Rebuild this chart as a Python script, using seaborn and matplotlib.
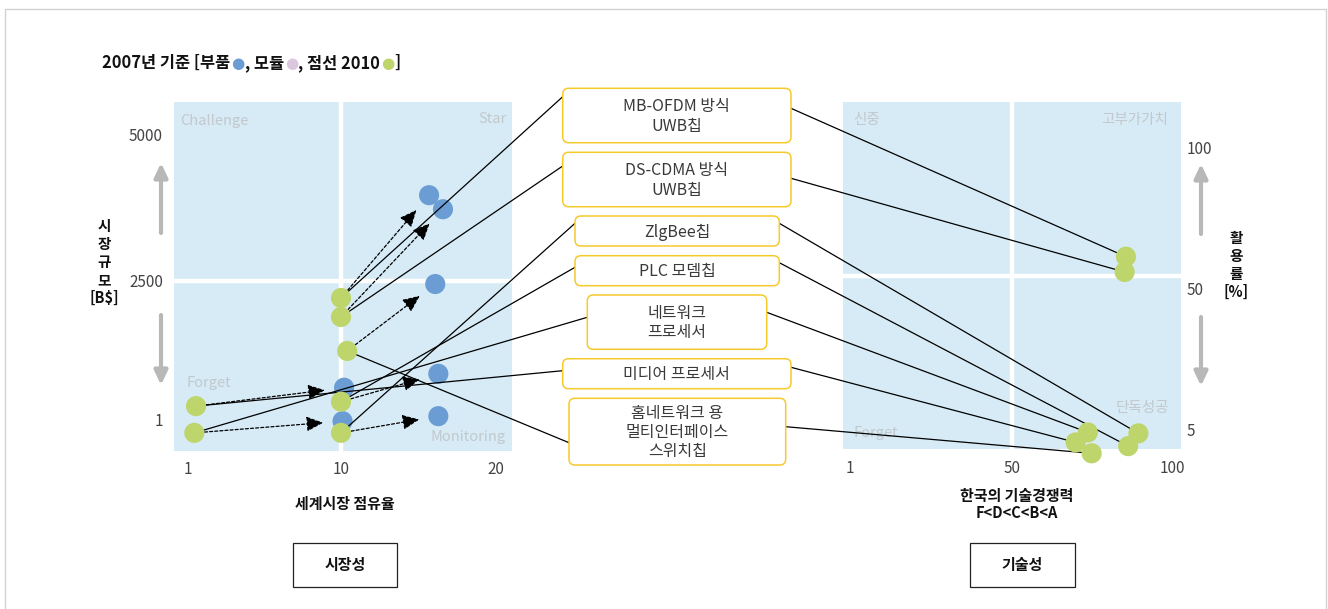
import numpy as np
import pandas as pd
import matplotlib
matplotlib.use("Agg")
import matplotlib.pyplot as plt
import matplotlib.patches as mpatches
import matplotlib.transforms as mtransforms
import seaborn as sns

# ---------------- data ----------------
items = ["MB-OFDM 방식\nUWB칩", "DS-CDMA 방식\nUWB칩", "ZlgBee칩", "PLC 모뎀칩",
         "네트워크\n프로세서", "미디어 프로세서", "홈네트워크 용\n멀티인터페이스\n스위치칩"]
share_2010 = [10.0, 10.0, 10.0, 10.0, 1.4, 1.5, 10.4]        # 세계시장 점유율 (green)
size_2010 = [2190, 1850, -230, 330, -230, 250, 1240]         # 시장규모 (green)
share_2007 = [15.7, 16.6, 16.3, 16.3, 10.1, 10.2, 16.1]      # blue (부품)
size_2007 = [3960, 3720, 70, 830, -20, 580, 2440]
tech_comp = [85.6, 85.2, 89.5, 86.3, 73.7, 69.9, 74.9]       # 한국의 기술경쟁력
util_rate = [61.4, 56.0, 3.7, -0.4, 4.0, 0.8, -2.7]          # 활용률

left_xticks = [1, 10, 20]
left_yticks = [1, 2500, 5000]
right_xticks = [1, 50, 100]
right_yticks = [5, 50, 100]
left_quadrants = ["Challenge", "Star", "Forget", "Monitoring"]
right_quadrants = ["신중", "고부가가치", "Forget", "단독성공"]
title_parts = ["2007년 기준 [부품", "●", ", 모듈", "●", ", 점선 2010", "●", "]"]

# ---------------- style ----------------
W, H = 1328, 609
BLUE = "#6b9dd4"
GREEN = "#bdd56b"
PINK = "#dcc6df"
BG = "#d6ebf6"
QCOL = "#c3c8cc"
YEL = "#f6ca2c"
TICKC = "#444444"

sns.set_style("white")
plt.rcParams["font.family"] = ["Noto Sans CJK KR", "DejaVu Sans"]
plt.rcParams["axes.unicode_minus"] = False

fig = plt.figure(figsize=(W / 100, H / 100), dpi=100)
ID = mtransforms.IdentityTransform()


def fx(px):
    return px / W


def fy(py):
    return 1 - py / H


def ax_rect(x0, y0, x1, y1):
    return [fx(x0), fy(y1), (x1 - x0) / W, (y1 - y0) / H]


def piecewise(xs, ts):
    xs = np.asarray(xs, float)
    ts = np.asarray(ts, float)

    def fwd(v):
        v = np.asarray(v, float)
        lo = ts[0] + (v - xs[0]) * (ts[1] - ts[0]) / (xs[1] - xs[0])
        hi = ts[1] + (v - xs[1]) * (ts[2] - ts[1]) / (xs[2] - xs[1])
        return np.where(v < xs[1], lo, hi)

    def inv(t):
        t = np.asarray(t, float)
        lo = xs[0] + (t - ts[0]) * (xs[1] - xs[0]) / (ts[1] - ts[0])
        hi = xs[1] + (t - ts[1]) * (xs[2] - xs[1]) / (ts[2] - ts[1])
        return np.where(t < ts[1], lo, hi)

    return fwd, inv


# outer frame
fig.patches.append(mpatches.Rectangle((5, H - 620), 1321, 611, transform=ID,
                                      fill=False, edgecolor="#d2d2d2", lw=1.0))

# ---------------- left panel ----------------
ax1 = fig.add_axes(ax_rect(174, 102, 512, 451))
lxf, lxi = piecewise(left_xticks, [0, 153.5, 308])
lyf, lyi = piecewise(left_yticks, [0, 139.3, 285.7])
ax1.set_xscale("function", functions=(lxf, lxi))
ax1.set_yscale("function", functions=(lyf, lyi))
ax1.set_xlim(float(lxi(-13.5)), float(lxi(324.5)))
ax1.set_ylim(float(lyi(-31)), float(lyi(318)))
ax1.set_facecolor(BG)
ax1.axvline(10, color="white", lw=3.2, zorder=1)
ax1.axhline(2500, color="white", lw=3.2, zorder=1)

df07 = pd.DataFrame({"share": share_2007, "size": size_2007})
df10 = pd.DataFrame({"share": share_2010, "size": size_2010})
sns.scatterplot(data=df07, x="share", y="size", ax=ax1, s=210, color=BLUE,
                edgecolor="none", linewidth=0, zorder=2, clip_on=False, legend=False)
sns.scatterplot(data=df10, x="share", y="size", ax=ax1, s=210, color=GREEN,
                edgecolor="none", linewidth=0, zorder=5, clip_on=False, legend=False)

for i in range(len(items)):
    ax1.annotate("", xy=(share_2007[i], size_2007[i]), xytext=(share_2010[i], size_2010[i]),
                 arrowprops=dict(arrowstyle="-|>,head_length=0.85,head_width=0.38",
                                 linestyle=(0, (2.4, 1.7)), lw=0.9, color="black",
                                 shrinkA=0, shrinkB=14, mutation_scale=12),
                 zorder=3, annotation_clip=False)

ax1.set_xticks(left_xticks)
ax1.set_xticklabels([str(v) for v in left_xticks])
ax1.set_yticks(left_yticks)
ax1.set_yticklabels([str(v) for v in left_yticks])
ax1.tick_params(length=0, labelsize=11, labelcolor=TICKC)
ax1.tick_params(axis="x", pad=7)
ax1.tick_params(axis="y", pad=8)
ax1.set_xlabel("")
ax1.set_ylabel("")
for s in ax1.spines.values():
    s.set_visible(False)

qkw = dict(transform=ax1.transAxes, color=QCOL, fontsize=10.5, zorder=1.5)
ax1.text(0.018, 0.946, left_quadrants[0], ha="left", va="center", **qkw)
ax1.text(0.985, 0.950, left_quadrants[1], ha="right", va="center", **qkw)
ax1.text(0.038, 0.195, left_quadrants[2], ha="left", va="center", **qkw)
ax1.text(0.982, 0.040, left_quadrants[3], ha="right", va="center", **qkw)

# ---------------- right panel ----------------
ax2 = fig.add_axes(ax_rect(842.7, 102, 1181, 448.7))
rxf, rxi = piecewise(right_xticks, [0, 162.5, 322.5])
ryf, ryi = piecewise(right_yticks, [0, 140.3, 282])
ax2.set_xscale("function", functions=(rxf, rxi))
ax2.set_yscale("function", functions=(ryf, ryi))
ax2.set_xlim(float(rxi(-6.8)), float(rxi(331.5)))
ax2.set_ylim(float(ryi(-19.4)), float(ryi(327.3)))
ax2.set_facecolor(BG)
ax2.axvline(50, color="white", lw=3.2, zorder=1)
ax2.axhline(54.6, color="white", lw=3.2, zorder=1)

dfr = pd.DataFrame({"tech": tech_comp, "util": util_rate})
sns.scatterplot(data=dfr, x="tech", y="util", ax=ax2, s=210, color=GREEN,
                edgecolor="none", linewidth=0, zorder=5, clip_on=False, legend=False)

ax2.set_xticks(right_xticks)
ax2.set_xticklabels([str(v) for v in right_xticks])
ax2.set_yticks(right_yticks)
ax2.set_yticklabels([str(v) for v in right_yticks])
ax2.yaxis.tick_right()
ax2.tick_params(length=0, labelsize=11, labelcolor=TICKC)
ax2.tick_params(axis="x", pad=8)
ax2.tick_params(axis="y", pad=4)
ax2.set_xlabel("")
ax2.set_ylabel("")
for s in ax2.spines.values():
    s.set_visible(False)

qkw2 = dict(transform=ax2.transAxes, color=QCOL, fontsize=10.5, zorder=1.5)
ax2.text(0.030, 0.948, right_quadrants[0], ha="left", va="center", **qkw2)
ax2.text(0.962, 0.948, right_quadrants[1], ha="right", va="center", **qkw2)
ax2.text(0.033, 0.046, right_quadrants[2], ha="left", va="center", **qkw2)
ax2.text(0.965, 0.117, right_quadrants[3], ha="right", va="center", **qkw2)

# ---------------- middle boxes and connectors ----------------
box_px = [(562.7, 88.3, 791, 142.7), (562.7, 152.3, 791, 206.7), (575, 216, 779.3, 246),
          (575, 255.7, 779.3, 285.7), (587.3, 295, 766.7, 349.3), (562.7, 358.7, 791, 388.7),
          (569, 398.3, 785.7, 465)]
left_anchor_y = [96.7, 166, 223.3, 267.3, 317.3, 370.7, 442.7]
right_anchor_y = [108.3, 178.3, 223.3, 262.7, 312.3, 367.3, 426.7]

for i, lab in enumerate(items):
    x0, y0, x1, y1 = box_px[i]
    ax1.annotate("", xy=(fx(x0), fy(left_anchor_y[i])), xycoords="figure fraction",
                 xytext=(share_2010[i], size_2010[i]), textcoords="data",
                 arrowprops=dict(arrowstyle="-", lw=0.9, color="black", shrinkA=0, shrinkB=0,
                                 clip_on=False),
                 zorder=3, annotation_clip=False)
    ax2.annotate("", xy=(fx(x1), fy(right_anchor_y[i])), xycoords="figure fraction",
                 xytext=(tech_comp[i], util_rate[i]), textcoords="data",
                 arrowprops=dict(arrowstyle="-", lw=0.9, color="black", shrinkA=0, shrinkB=0,
                                 clip_on=False),
                 zorder=3, annotation_clip=False)
    fig.patches.append(mpatches.FancyBboxPatch((x0, H - y1), x1 - x0, y1 - y0,
                                               boxstyle="round,pad=0,rounding_size=6",
                                               transform=ID, facecolor="white",
                                               edgecolor=YEL, lw=1.1, zorder=5))
    fig.text(fx((x0 + x1) / 2), fy((y0 + y1) / 2 + 1), lab, ha="center", va="center",
             fontsize=11.5, color="#3a3a3a", linespacing=1.17, zorder=6)

# ---------------- gray arrows ----------------
for (xa, ya, yb) in [(161, 233, 163), (161, 315, 385), (1201, 234, 164), (1201, 317, 386)]:
    fig.patches.append(mpatches.FancyArrowPatch((xa, H - ya), (xa, H - yb), transform=ID,
                                                arrowstyle="-|>,head_length=0.42,head_width=0.2",
                                                mutation_scale=20, lw=3.0, color="#b8b8b8",
                                                shrinkA=0, shrinkB=0))

# ---------------- texts ----------------
bold = dict(fontweight="bold", color="#111111")
fig.text(fx(104), fy(262), "시\n장\n규\n모\n[B$]", ha="center", va="center",
         fontsize=10.5, linespacing=1.15, **bold)
fig.text(fx(1236), fy(265), "활\n용\n률\n[%]", ha="center", va="center",
         fontsize=10.5, linespacing=1.15, **bold)
fig.text(fx(345), fy(504), "세계시장 점유율", ha="center", va="center", fontsize=10.8, **bold)
fig.text(fx(1017), fy(496), "한국의 기술경쟁력", ha="center", va="center", fontsize=10.8, **bold)
fig.text(fx(1017), fy(513.5), "F<D<C<B<A", ha="center", va="center", fontsize=10.5, **bold)

for (x0, y0, x1, y1, lab) in [(292.7, 543.3, 396.7, 587.3, "시장성"),
                              (970, 543.3, 1075, 587.3, "기술성")]:
    fig.patches.append(mpatches.Rectangle((x0, H - y1), x1 - x0, y1 - y0, transform=ID,
                                          fill=False, edgecolor="#222222", lw=0.9))
    fig.text(fx((x0 + x1) / 2), fy((y0 + y1) / 2), lab, ha="center", va="center",
             fontsize=10.8, **bold)

# title with coloured dots, pieces placed side by side
renderer = fig.canvas.get_renderer()
xcur = 102
dot_colors = {1: BLUE, 3: PINK, 5: GREEN}
for k, part in enumerate(title_parts):
    if k in dot_colors:
        t = fig.text(fx(xcur + 1), fy(68), part, ha="left", va="baseline", fontsize=11,
                     color=dot_colors[k], family=["DejaVu Sans"])
        bb = t.get_window_extent(renderer)
        xcur += bb.width + 1
    else:
        t = fig.text(fx(xcur), fy(68), part, ha="left", va="baseline", fontsize=11.8, **bold)
        bb = t.get_window_extent(renderer)
        xcur += bb.width

fig.savefig("out.png", dpi=100)
